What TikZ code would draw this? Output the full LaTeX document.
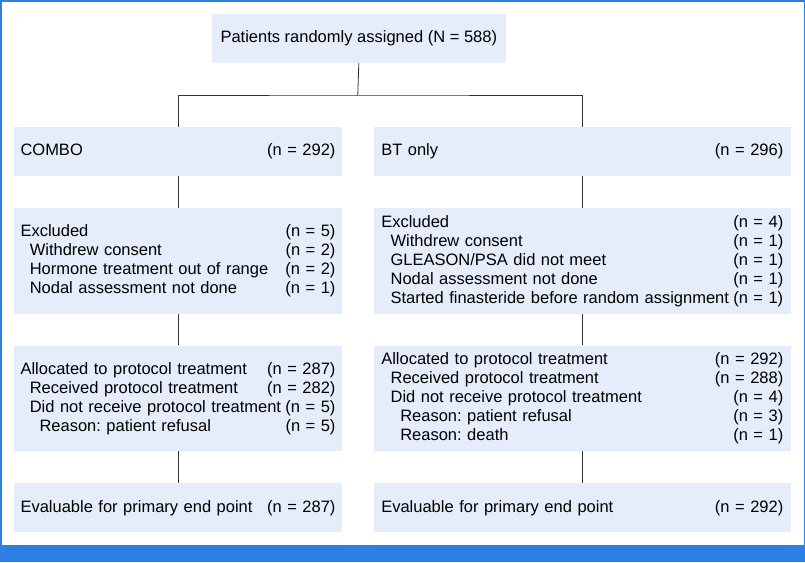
\documentclass[tikz,border=0pt]{standalone}
\usepackage{fontspec}
\setmainfont{Liberation Sans}
\usepackage{xcolor}
\usepackage{tikz}
\frenchspacing

\definecolor{framebl}{RGB}{46,127,227}
\definecolor{boxbl}{RGB}{229,236,250}
\definecolor{linegr}{RGB}{50,50,50}

\tikzset{
  flowbox/.style={fill=boxbl, inner sep=0pt, minimum height=#1},
  flowbox/.default=49pt,
  link/.style={draw=linegr, line width=0.8pt}
}
% count at the right edge of a line
\newcommand{\cnt}[1]{\nobreak\hspace{4pt plus 1filll}\mbox{(n = #1)}}
\newcommand{\inA}{\hspace*{9.3pt}}
\newcommand{\inB}{\hspace*{19pt}}

\begin{document}
\begin{tikzpicture}[x=1pt,y=-1pt,font=\fontsize{16.5}{19}\selectfont]
\useasboundingbox (0,0) rectangle (805,562);

%Frame and bottom bar
\fill[framebl] (0,0) rectangle (805,562);
\fill[white] (1.5,1.5) rectangle (803.5,545);

%Top box
\node[flowbox, minimum width=293.6pt] (top) at (358.8,38.5) {Patients randomly assigned (N = 588)};

%Arms
\node[flowbox, minimum width=328pt, text width=315pt, align=left] (combo) at (178,151.2)
  {COMBO\cnt{292}};
\node[flowbox, minimum width=417.3pt, text width=402pt, align=left] (bt) at (582.3,151.2)
  {BT only\cnt{296}};

%Exclusions
\node[flowbox=105.7pt, minimum width=328pt, text width=315pt, align=left] (exclL) at (178,261.2)
  {Excluded\cnt{5}\\
   \inA Withdrew consent\cnt{2}\\
   \inA Hormone treatment out of range\cnt{2}\\
   \inA Nodal assessment not done\cnt{1}};
\node[flowbox=105.7pt, minimum width=417.3pt, text width=402pt, align=left] (exclR) at (582.3,261.2)
  {Excluded\cnt{4}\\
   \inA Withdrew consent\cnt{1}\\
   \inA GLEASON/PSA did not meet\cnt{1}\\
   \inA Nodal assessment not done\cnt{1}\\
   \inA Started finasteride before random assignment\cnt{1}};

%Allocation
\node[flowbox=105.3pt, minimum width=328pt, text width=315pt, align=left] (allocL) at (178,398.3)
  {Allocated to protocol treatment\cnt{287}\\
   \inA Received protocol treatment\cnt{282}\\
   \inA Did not receive protocol treatment\cnt{5}\\
   \inB Reason: patient refusal\cnt{5}};
\node[flowbox=105.3pt, minimum width=417.3pt, text width=402pt, align=left] (allocR) at (582.3,398.3)
  {Allocated to protocol treatment\cnt{292}\\
   \inA Received protocol treatment\cnt{288}\\
   \inA Did not receive protocol treatment\cnt{4}\\
   \inB Reason: patient refusal\cnt{3}\\
   \inB Reason: death\cnt{1}};

%Evaluable
\node[flowbox, minimum width=328pt, text width=315pt, align=left] (evalL) at (178,507.8)
  {Evaluable for primary end point\cnt{287}};
\node[flowbox, minimum width=417.3pt, text width=402pt, align=left] (evalR) at (582.3,507.8)
  {Evaluable for primary end point\cnt{292}};

%Connectors
\coordinate (split) at (357.8,95);
\draw[link] (top.south) -- (split);
\draw[link] (combo.north) |- (split) -| (bt.north);
\draw[link] (combo) -- (exclL);
\draw[link] (bt) -- (exclR);
\draw[link] (exclL) -- (allocL);
\draw[link] (exclR) -- (allocR);
\draw[link] (allocL) -- (evalL);
\draw[link] (allocR) -- (evalR);
\end{tikzpicture}
\end{document}
